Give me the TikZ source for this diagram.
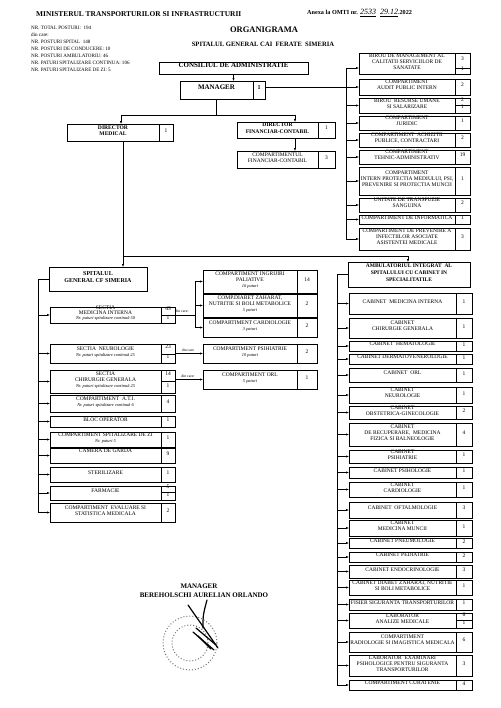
\documentclass[tikz,border=0pt]{standalone}
\usepackage{fontspec}
\setmainfont{Liberation Serif}
\usetikzlibrary{fit,arrows.meta}
\tikzset{
 bx/.style={draw, line width=0.55pt, inner sep=0pt, outer sep=0pt, align=center, font=\fontsize{5.5}{6}\selectfont},
 tight/.style={font=\fontsize{5.5}{5.2}\selectfont},
 bfx/.style={font=\fontsize{5.6}{6.4}\selectfont\bfseries},
 arr/.style={line width=0.45pt, -{Latex[length=2.8pt,width=2.1pt]}},
 ln/.style={line width=0.45pt},
 dc/.style={inner sep=0pt, font=\fontsize{3.8}{4}\selectfont},
 hdr/.style={inner sep=0pt},
 sig/.style={draw=black, line width=1.2pt, line cap=round},
 stampring/.style={draw=black!55, line width=1pt, dotted},
}
\newcommand\cellbox[7][]{\node[bx,#1,fit={(#3,#4) (#5,#6)}] (#2) {#7};}
\newcommand\rowgen[8]{\cellbox{#1}{#2}{#5}{#3}{#6}{#7}\cellbox{#1n}{#3}{#5}{#4}{#6}{#8}}
\newcommand\rowR[5]{\rowgen{#1}{359}{455}{470}{#2}{#3}{#4}{#5}}
\newcommand\rowA[5]{\rowgen{#1}{349}{456}{472}{#2}{#3}{#4}{#5}}
\newcommand\rowL[5]{\rowgen{#1}{50}{161}{175}{#2}{#3}{#4}{#5}}
\newcommand\rowM[5]{\rowgen{#1}{203}{297}{317}{#2}{#3}{#4}{#5}}
\newcommand\pat[1]{{\fontsize{4.4}{4.8}\selectfont\itshape #1}}
\begin{document}
\begin{tikzpicture}[x=1pt,y=-1pt]
\useasboundingbox[fill=white] (0,0) rectangle (500,708);
% ---------- header ----------
\node[hdr, anchor=west, font=\fontsize{7.4}{8}\selectfont\bfseries] (min) at (36,14) {MINISTERUL TRANSPORTURILOR SI INFRASTRUCTURII};
\node[hdr, anchor=west, font=\fontsize{6.2}{7}\selectfont\bfseries] (anx) at (307,13) {Anexa la OMTI nr. {\mdseries\itshape\fontsize{8}{8}\selectfont\underline{2533}\ \ \underline{29.12}}.2022};
\node[hdr, anchor=north west, align=left, font=\fontsize{5.1}{7}\selectfont] (stats) at (31,26) {NR. TOTAL POSTURI:\ \ 194\\din care:\\NR. POSTURI SPITAL\ \ 148\\NR. POSTURI DE CONDUCERE:\ 10\\NR. POSTURI AMBULATORIU:\ 46\\NR. PATURI SPITALIZARE CONTINUA: 106\\NR. PATURI SPITALIZARE DE ZI: 5};
\node[hdr, font=\fontsize{8.5}{9}\selectfont\bfseries] (org) at (264,30) {ORGANIGRAMA};
\node[hdr, font=\fontsize{6.6}{7}\selectfont\bfseries] (sub) at (263,44) {SPITALUL GENERAL CAI\ \ FERATE\ \ SIMERIA};
% ---------- top ----------
\cellbox[line width=0.8pt, font=\fontsize{7}{8}\selectfont\bfseries]{cons}{159}{62}{308}{74}{CONSILIUL DE ADMINISTRATIE}
\cellbox[line width=0.8pt, font=\fontsize{7}{8}\selectfont\bfseries]{mgr}{180}{81}{253}{99}{MANAGER}
\cellbox[line width=0.8pt, font=\fontsize{6}{7}\selectfont\bfseries]{mgrn}{253}{81}{265}{99}{1}
\cellbox[bfx]{dm}{67}{124}{159}{141}{DIRECTOR\\MEDICAL}
\cellbox{dmn}{159}{124}{173}{141}{1}
\cellbox[bfx]{df}{237}{122}{318}{138}{DIRECTOR\\FINANCIAR-CONTABIL}
\cellbox{dfn}{318}{122}{335}{138}{1}
\cellbox{cf}{237}{151}{318}{168}{COMPARTIMENTUL\\FINANCIAR-CONTABIL}
\cellbox{cfn}{318}{151}{335}{168}{3}
% ---------- right top column ----------
\cellbox{r1}{359}{53}{455}{74}{BIROU DE MANAGEMENT AL\\CALITATII SERVICIILOR DE\\SANATATE}
\cellbox{r1a}{455}{53}{470}{68}{3}
\cellbox{r1b}{455}{68}{470}{74}{1}
\rowR{r2}{79}{95}{COMPARTIMENT\\AUDIT PUBLIC INTERN}{2}
\cellbox{r3}{359}{98}{455}{113}{BIROU\ \ RESURSE UMANE\\SI SALARIZARE}
\cellbox{r3a}{455}{98}{470}{105}{2}
\cellbox{r3b}{455}{105}{470}{113}{1}
\rowR{r4}{116}{130}{COMPARTIMENT\\JURIDIC}{1}
\rowR{r5}{133}{147}{COMPARTIMENT\ \ ACHIZITII\\PUBLICE, CONTRACTARI}{2}
\rowR{r6}{150}{164}{COMPARTIMENT\\TEHNIC-ADMINISTRATIV}{19}
\rowR{r7}{167}{195}{COMPARTIMENT\\INTERN PROTECTIA MEDIULUI, PSI,\\PREVENIRE SI PROTECTIA MUNCII}{1}
\rowR{r8}{198}{212}{UNITATE DE TRANSFUZIE\\SANGUINA}{2}
\rowR{r9}{215}{224}{COMPARTIMENT DE INFORMATICA}{1}
\rowR{r10}{228}{250}{COMPARTIMENT DE PREVENIRE A\\INFECTIILOR ASOCIATE\\ASISTENTEI MEDICALE}{3}
% ---------- left column ----------
\cellbox[line width=1pt, font=\fontsize{6}{7.2}\selectfont\bfseries]{sp}{49}{267}{147}{291}{SPITALUL\\GENERAL CF SIMERIA}
\cellbox[tight]{l1}{50}{307}{161}{323}{SECTIA\\MEDICINA INTERNA\\\pat{Nr. paturi spitalizare continuă 50}}
\cellbox{l1a}{161}{307}{175}{315}{45}
\cellbox{l1b}{161}{315}{175}{323}{1}
\cellbox{l2}{50}{344}{161}{363}{SECTIA\ \ NEUROLOGIE\\\pat{Nr.\ paturi spitalizare continuă 25}}
\cellbox{l2a}{161}{344}{175}{354}{23}
\cellbox{l2b}{161}{354}{175}{363}{1}
\cellbox{l3}{50}{370}{161}{393}{SECTIA\\CHIRURGIE GENERALA\\\pat{Nr. paturi spitalizare continuă 25}}
\cellbox{l3a}{161}{370}{175}{381}{14}
\cellbox{l3b}{161}{381}{175}{393}{1}
\rowL{l4}{395}{412}{COMPARTIMENT\ \ A.T.I.\\\pat{Nr.\ paturi spitalizare continuă 6}}{4}
\rowL{l5}{416}{427}{BLOC OPERATOR}{1}
\rowL{l6}{432}{447}{COMPARTIMENT SPITALIZARE DE ZI\\\pat{Nr. paturi 5}}{1}
\rowL{l7}{448}{463}{CAMERA DE GARDA\\\phantom{X}}{9}
\rowL{l8}{467}{482}{STERILIZARE}{1}
\cellbox{l9}{50}{486}{161}{500}{FARMACIE}
\cellbox{l9a}{161}{486}{175}{492}{5}
\cellbox{l9b}{161}{492}{175}{500}{1}
\rowL{l10}{503}{522}{COMPARTIMENT\ \ EVALUARE SI\\STATISTICA MEDICALA}{2}
% ---------- middle column ----------
\rowM{m1}{270}{293}{COMPARTIMENT INGRIJIRI\\PALIATIVE\\\pat{16 paturi}}{14}
\rowM{m2}{294}{317}{COMP.DIABET ZAHARAT,\\NUTRITIE SI BOLI METABOLICE\\\pat{5 paturi}}{2}
\rowM{m3}{318}{337}{COMPARTIMENT CARDIOLOGIE\\\pat{3 paturi}}{2}
\rowM{m4}{344}{363}{COMPARTIMENT PSIHIATRIE\\\pat{10 paturi}}{2}
\rowM{m5}{370}{389}{COMPARTIMENT ORL\\\pat{5 paturi}}{1}
\node[dc] (dc1) at (182,311) {din care:};
\node[dc] (dc2) at (188,350) {din care};
\node[dc] (dc3) at (188,376) {din care:};
% ---------- ambulatoriu ----------
\cellbox[line width=0.8pt, font=\fontsize{5.5}{6.6}\selectfont\bfseries]{amb}{348}{262}{470}{287}{AMBULATORIUL INTEGRAT\ \ AL\\SPITALULUI CU CABINET IN\\SPECIALITATILE}
\rowA{a1}{293}{314}{CABINET\ \ MEDICINA INTERNA}{1}
\rowA{a2}{318}{338}{CABINET\\CHIRURGIE GENERALA}{1}
\rowA{a3}{341}{351}{CABINET\ \ HEMATOLOGIE}{1}
\rowA{a4}{354}{364}{CABINET DERMATOVENEROLOGIE}{1}
\rowA{a5}{368}{382}{CABINET\ \ ORL}{1}
\rowA{a6}{387}{403}{CABINET\\NEUROLOGIE}{1}
\rowA{a7}{406}{419}{CABINET\\OBSTETRICA-GINECOLOGIE}{2}
\rowA{a8}{423}{446}{CABINET\\DE RECUPERARE,\ \ MEDICINA\\FIZICA SI BALNEOLOGIE}{4}
\rowA{a9}{450}{463}{CABINET\\PSIHIATRIE}{1}
\rowA{a10}{467}{478}{CABINET PSIHOLOGIE}{1}
\rowA{a11}{482}{497}{CABINET\\CARDIOLOGIE}{1}
\rowA{a12}{502}{518}{CABINET\ \ OFTALMOLOGIE}{3}
\rowA{a13}{520}{536}{CABINET\\MEDICINA MUNCII}{1}
\rowA{a14}{538}{548}{CABINET PNEUMOLOGIE}{2}
\rowA{a15}{552}{562}{CABINET PEDIATRIE}{2}
\rowA{a16}{565}{578}{CABINET ENDOCRINOLOGIE}{3}
\rowA{a17}{580}{595}{CABINET DIABET ZAHARAT, NUTRITIE\\SI BOLI METABOLICE}{1}
\rowA{a18}{599}{610}{FISIER SIGURANTA TRANSPORTURILOR}{1}
\cellbox{a19}{349}{613}{456}{628}{LABORATOR\\ANALIZE MEDICALE}
\cellbox{a19a}{456}{613}{472}{620}{6}
\cellbox{a19b}{456}{620}{472}{628}{1}
\rowA{a20}{632}{652}{COMPARTIMENT\\RADIOLOGIE SI IMAGISTICA MEDICALA}{6}
\rowA{a21}{655}{676}{LABORATOR\ \ EXAMINARI\\PSIHOLOGICE PENTRU SIGURANTA\\TRANSPORTURILOR}{3}
\rowA{a22}{680}{690}{COMPARTIMENT CURATENIE}{4}
% ---------- connectors ----------
\draw[arr] (cons.south) -- (cons.south |- mgr.north);
\draw[arr] (mgrn.east |- r2.west) -- (r2.west);
\coordinate (j1) at (121,115);
\coordinate (j2) at (295,115);
\draw[ln] (mgr.south) -- (mgr.south |- j1);
\draw[ln] (j1) -- (j2);
\draw[arr] (j1) -- (j1 |- dm.north);
\draw[arr] (j2) -- (j2 |- df.north);
\draw[arr] (j2 |- df.south) -- (j2 |- cf.north);
\coordinate (rv) at (346,0);
\draw[ln] (rv |- r1a.south) -- (rv |- r10.west);
\draw[arr] (rv |- r1a.south) -- (r1.west |- r1a.south);
\foreach \n in {r3,r4,r5,r6,r7,r8,r9,r10} \draw[arr] (rv |- \n.west) -- (\n.west);
\coordinate (dmv) at (123,256);
\coordinate (av) at (408,256);
\draw[ln] (dmv |- dm.south) -- (dmv) -- (av);
\draw[arr] (dmv) -- (dmv |- sp.north);
\draw[arr] (av) -- (av |- amb.north);
\coordinate (lv) at (38,0);
\draw[ln] (sp.west) -- (lv |- sp.west) -- (lv |- l10.west);
\foreach \n in {l1,l2,l3,l4,l5,l6,l7,l8,l9,l10} \draw[arr] (lv |- \n.west) -- (\n.west);
\coordinate (avl) at (337,0);
\draw[ln] (amb.west) -- (avl |- amb.west) -- (avl |- a22.west);
\foreach \i in {1,...,22} \draw[arr] (avl |- a\i.west) -- (a\i.west);
\coordinate (bk) at (195,0);
\draw[ln] (l1.east -| l1a.east) -- (bk |- l1.east);
\draw[ln] (bk |- m1.west) -- (bk |- m3.west);
\foreach \n in {m1,m2,m3} \draw[arr] (bk |- \n.west) -- (\n.west);
\draw[arr] (l2a.east |- m4.west) -- (m4.west);
\draw[arr] (l3a.east |- m5.west) -- (m5.west);
% ---------- signature ----------
\node[hdr, font=\fontsize{7}{8}\selectfont\bfseries] (sgm) at (199,586) {MANAGER};
\node[hdr, font=\fontsize{7}{8}\selectfont\bfseries] (sgn) at (204,595) {BEREHOLSCHI AURELIAN ORLANDO};
\coordinate (stc) at (190,643);
\coordinate (s1a) at (188,605); \coordinate (s1b) at (218,648);
\coordinate (s2a) at (207,600); \coordinate (s2c) at (203,615); \coordinate (s2b) at (203,628);
\coordinate (s3a) at (193,632); \coordinate (s3b) at (214,650);
\coordinate (s4a) at (196,628); \coordinate (s4b) at (216,645);
\coordinate (s5a) at (198,636); \coordinate (s5b) at (211,649);
\draw[stampring] (stc) circle (27pt);
\draw[stampring] (stc) circle (18pt);
\draw[sig] (s1a) -- (s1b);
\draw[sig] (s2a) .. controls (s2c) .. (s2b);
\draw[sig] (s3a) -- (s3b);
\draw[sig] (s4a) -- (s4b);
\draw[sig] (s5a) -- (s5b);
\end{tikzpicture}
\end{document}
